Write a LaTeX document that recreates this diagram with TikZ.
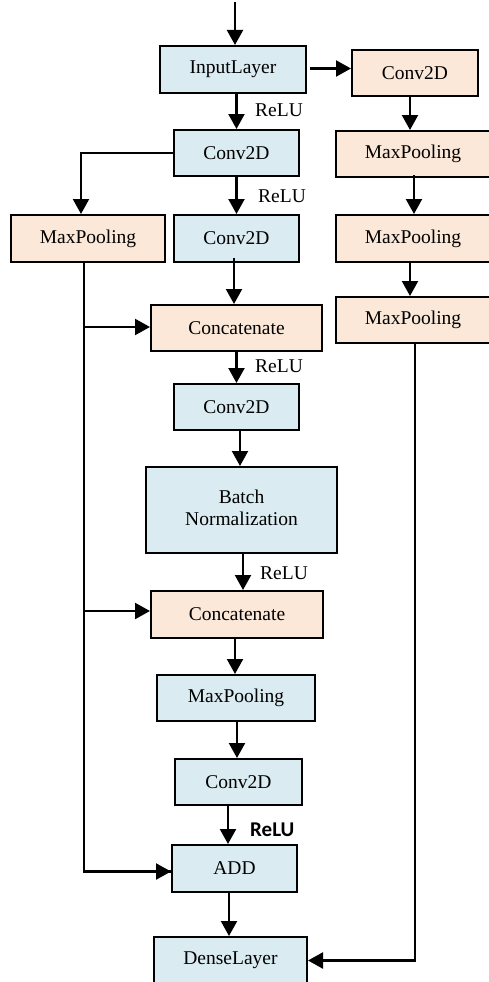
\documentclass[tikz,border=0pt]{standalone}
\usepackage{fontspec}
\setmainfont{Liberation Serif}
\newfontfamily\carlito{Carlito}
\usetikzlibrary{arrows.meta,calc}
\definecolor{lblue}{RGB}{218,235,242}
\definecolor{lorange}{RGB}{252,232,216}
\begin{document}
\begin{tikzpicture}[x=1pt,y=-1pt,
  font=\fontsize{19.5}{22}\selectfont,
  box/.style={draw=black,line width=2pt,minimum width=#1,inner sep=0pt,minimum height=46pt},
  bbox/.style={box=#1,fill=lblue},
  obox/.style={box=#1,fill=lorange},
  arr/.style={line width=2.2pt,-{Triangle[length=15pt,width=16pt]}},
  ln/.style={line width=2.2pt},
  lbl/.style={anchor=west,inner sep=0pt}]
\path[use as bounding box,clip] (0,0) rectangle (489,982);
% nodes
\node[bbox=146pt,minimum height=47pt] (in) at (233,69.5) {InputLayer};
\node[obox=126pt] (rc) at (415,73) {Conv2D};
\node[bbox=125pt] (c2) at (236.5,153) {Conv2D};
\node[obox=154pt] (rm1) at (413,154) {MaxPooling};
\node[obox=154pt,minimum height=47pt] (ml) at (88,238.5) {MaxPooling};
\node[bbox=125pt,minimum height=47pt] (c3) at (236.5,238.5) {Conv2D};
\node[obox=154pt,minimum height=47pt] (rm2) at (413,238.5) {MaxPooling};
\node[obox=154pt] (rm3) at (413,320) {MaxPooling};
\node[obox=171pt] (cat1) at (236.5,328) {Concatenate};
\node[bbox=125pt] (c4) at (236.5,407) {Conv2D};
\node[bbox=191pt,minimum height=86pt] (bn) at (241.5,510) {\raisebox{8pt}{\begin{tabular}{@{}c@{}}Batch\\Normalization\end{tabular}}};
\node[obox=172pt,minimum height=47pt] (cat2) at (237,614.5) {Concatenate};
\node[bbox=158pt] (mp) at (236,698) {MaxPooling};
\node[bbox=127pt] (c5) at (238.5,782) {Conv2D};
\node[bbox=125pt,minimum height=47pt] (add) at (234.5,868.5) {ADD};
\node[bbox=153pt,minimum height=47pt] (dense) at (230.5,960.5) {DenseLayer};
% labels
\node[lbl] (r1) at (255,110) {ReLU};
\node[lbl] (r2) at (258,196) {ReLU};
\node[lbl] (r3) at (255,366) {ReLU};
\node[lbl] (r4) at (260,573) {ReLU};
\node[lbl,font=\carlito\bfseries\fontsize{21}{24}\selectfont] (r5) at (250,830) {ReLU};
% coordinates
\coordinate (top) at (235,2);
\coordinate (ml1) at ([xshift=-4pt]ml.south);
\coordinate (rm3s) at ([xshift=2pt]rm3.south);
% connectors
\draw[arr] (top) -- (top |- in.north);
\draw[arr] ([xshift=3pt,yshift=1pt]in.east) -- ([yshift=1pt]in.east -| rc.west);
\draw[arr] (c2.north |- in.south) -- (c2.north);
\draw[arr] (c2.west) -| ([xshift=-7pt]ml.north);
\draw[arr] ([yshift=1pt]c2.south) -- (c3.north);
\draw[arr] ([xshift=-5pt]rc.south) -- ([xshift=-5pt]rc.south |- rm1.north);
\draw[arr] ([xshift=1pt,yshift=3pt]rm1.south) -- ([xshift=1pt]rm2.north);
\draw[arr] ([xshift=-3pt]rm2.south) -- ([xshift=-3pt]rm3.north);
\draw[arr] ([xshift=-2.5pt,yshift=5pt]c3.south) -- ([xshift=-2.5pt]cat1.north);
\draw[ln] (ml1) |- ([yshift=-3pt]add.west);
\draw[arr] ([yshift=1pt]cat1.west -| ml1) -- ([yshift=1pt]cat1.west);
\draw[arr] (c4.north |- cat1.south) -- (c4.north);
\draw[arr] ([xshift=3.5pt,yshift=2pt]c4.south) -- ([xshift=3.5pt]c4.south |- bn.north);
\draw[arr] ([xshift=1.5pt]bn.south) -- ([xshift=1.5pt]bn.south |- cat2.north);
\draw[arr] ([yshift=-3pt]add.west -| ml1) -- ([yshift=-3pt]add.west);
\draw[arr] ([yshift=3.5pt]cat2.west -| ml1) -- ([yshift=3.5pt]cat2.west);
\draw[arr] ([xshift=-2pt]cat2.south) -- ([xshift=-2pt]cat2.south |- mp.north);
\draw[arr] ([xshift=1pt]mp.south) -- ([xshift=1pt]mp.south |- c5.north);
\draw[arr] ([xshift=-10.5pt,yshift=2pt]c5.south) -- ([xshift=-10.5pt]c5.south |- add.north);
\draw[arr] ([xshift=-5.5pt]add.south) -- ([xshift=-5.5pt]add.south |- dense.north);
\draw[arr] (rm3s) |- (dense.east);
\end{tikzpicture}
\end{document}
